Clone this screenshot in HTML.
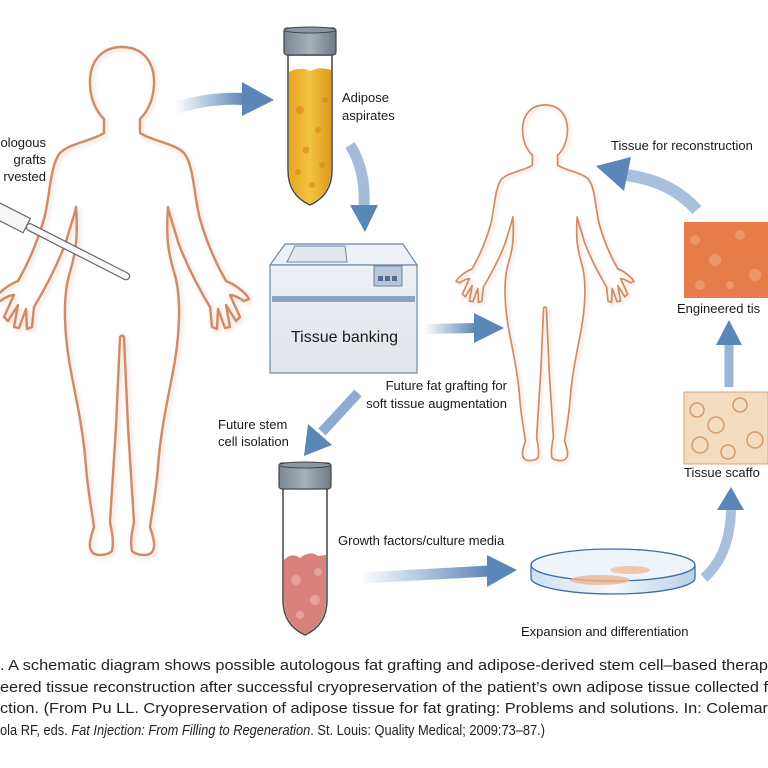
<!DOCTYPE html>
<html><head><meta charset="utf-8"><style>
html,body{margin:0;padding:0;background:#fff;}
svg{display:block;}
text{font-family:"Liberation Sans",sans-serif;fill:#1a1a1a;}
.cap{font-size:15px;fill:#222;}
</style></head><body>
<svg width="768" height="768" viewBox="0 0 768 768" xmlns="http://www.w3.org/2000/svg">
<defs>
<path id="half" d="M0,0 C20,0 33,14 32,38 C31,56 24,66 18,72 L18,86 C30,94 52,96 62,106 C72,118 72,150 78,172 C86,200 96,220 104,234 C114,238 124,246 127,252 L122,254 C116,250 112,248 108,248 L118,270 L114,274 L104,258 L108,280 L103,281 L96,262 L95,282 L90,280 L88,260 C76,240 64,216 56,195 C52,180 48,170 46,160 C44,190 46,205 52,225 C60,250 58,290 50,330 C44,360 38,390 36,420 C34,445 30,465 28,480 C32,492 34,500 30,505 C26,510 14,508 10,504 C8,495 10,485 12,475 C10,440 8,410 6,380 C4,340 3,310 2,290 L0,288" fill="none" stroke="#cf8a68" stroke-width="2.4" stroke-linejoin="round"/>
<filter id="sh" x="-10%" y="-10%" width="130%" height="130%"><feGaussianBlur stdDeviation="2.5"/></filter>
<linearGradient id="ar" x1="0" x2="1" y1="0" y2="0"><stop offset="0" stop-color="#5b86b8" stop-opacity="0"/><stop offset="1" stop-color="#5b86b8"/></linearGradient>
<linearGradient id="ttube" x1="0" x2="1"><stop offset="0" stop-color="#e6a51f"/><stop offset=".5" stop-color="#f3c441"/><stop offset="1" stop-color="#dd9a1c"/></linearGradient>
<linearGradient id="cap" x1="0" x2="1"><stop offset="0" stop-color="#7b8793"/><stop offset=".5" stop-color="#a7b1bb"/><stop offset="1" stop-color="#6f7a86"/></linearGradient>
<linearGradient id="box" x1="0" x2="0" y1="0" y2="1"><stop offset="0" stop-color="#eef1f5"/><stop offset="1" stop-color="#e0e5eb"/></linearGradient>
<linearGradient id="dish" x1="0" x2="1"><stop offset="0" stop-color="#cfe0f0"/><stop offset=".5" stop-color="#f4f8fc"/><stop offset="1" stop-color="#b9cfe6"/></linearGradient>
<g id="fig"><use href="#half"/><use href="#half" transform="scale(-1,1)"/></g>
</defs>

<g transform="translate(124,49)" filter="url(#sh)" opacity=".35"><use href="#fig"/></g>
<g transform="translate(122,47)"><use href="#fig"/></g>
<g transform="translate(547,107) scale(0.7)" filter="url(#sh)" opacity=".35"><use href="#fig"/></g>
<g transform="translate(545,105) scale(0.7)"><use href="#fig"/></g>

<g transform="translate(0,212) rotate(27)">
<rect x="-10" y="-8" width="40" height="16" fill="#f4f6f8" stroke="#666" stroke-width="1.2"/>
<rect x="30" y="-3.5" width="115" height="7" rx="3.5" fill="#f8f9fa" stroke="#666" stroke-width="1.2"/>
</g>

<path d="M288,55 L288,170 Q288,195 310,205 Q332,195 332,170 L332,55 Z" fill="#fff" stroke="#444" stroke-width="1.5"/>
<path d="M289,72 Q300,66 310,71 Q320,66 331,70 L331,170 Q331,194 310,204 Q289,194 289,170 Z" fill="url(#ttube)"/>
<g fill="#d77a1d" opacity=".5"><circle cx="300" cy="110" r="4"/><circle cx="318" cy="130" r="3"/><circle cx="306" cy="150" r="3.5"/><circle cx="322" cy="165" r="3"/><circle cx="298" cy="172" r="3"/><circle cx="312" cy="185" r="3"/><circle cx="325" cy="100" r="3"/></g>
<rect x="284" y="28" width="52" height="27" rx="3" fill="url(#cap)" stroke="#444" stroke-width="1.2"/>
<ellipse cx="310" cy="30" rx="26" ry="3" fill="#8c97a2" stroke="#444" stroke-width="1"/>

<path d="M283,488 L283,600 Q283,625 305,635 Q327,625 327,600 L327,488 Z" fill="#fff" stroke="#444" stroke-width="1.5"/>
<path d="M284,560 Q292,552 300,558 Q310,550 318,556 L326,555 L326,600 Q326,624 305,634 Q284,624 284,600 Z" fill="#d9817c"/>
<g fill="#f2b8b0" opacity=".6"><circle cx="296" cy="580" r="5"/><circle cx="315" cy="600" r="5"/><circle cx="300" cy="615" r="4"/><circle cx="318" cy="572" r="4"/></g>
<rect x="279" y="463" width="52" height="26" rx="3" fill="url(#cap)" stroke="#444" stroke-width="1.2"/>
<ellipse cx="305" cy="465" rx="26" ry="3" fill="#8c97a2" stroke="#444" stroke-width="1"/>

<path d="M270,265 L285,244 L403,244 L417,265 Z" fill="#eef1f5" stroke="#6d88a8" stroke-width="1.2"/>
<path d="M287,262 L295,246 L345,246 L347,262 Z" fill="#e3e8ee" stroke="#6d88a8" stroke-width="1"/>
<rect x="270" y="265" width="147" height="108" fill="url(#box)" stroke="#6d88a8" stroke-width="1.2"/>
<rect x="272" y="296" width="143" height="6" fill="#8fa3bb"/>
<rect x="374" y="266" width="28" height="20" fill="#b8c6d6" stroke="#6d88a8"/>
<rect x="378" y="276" width="5" height="5" fill="#4e6a8c"/><rect x="385" y="276" width="5" height="5" fill="#4e6a8c"/><rect x="392" y="276" width="5" height="5" fill="#4e6a8c"/>
<text x="291" y="342" font-size="16">Tissue banking</text>

<rect x="684" y="222" width="84" height="76" fill="#e57c4a"/>
<g fill="#f0a57a" opacity=".7"><circle cx="695" cy="240" r="5"/><circle cx="715" cy="260" r="6"/><circle cx="740" cy="235" r="5"/><circle cx="755" cy="275" r="6"/><circle cx="700" cy="285" r="5"/><circle cx="730" cy="285" r="4"/></g>
<rect x="684" y="392" width="84" height="72" fill="#f3dcc0" stroke="#d9a577" stroke-width="1"/>
<g fill="none" stroke="#d49a68" stroke-width="1.5"><circle cx="697" cy="410" r="7"/><circle cx="716" cy="425" r="8"/><circle cx="740" cy="405" r="7"/><circle cx="755" cy="440" r="8"/><circle cx="700" cy="445" r="8"/><circle cx="728" cy="452" r="7"/></g>

<path d="M531,565 L531,578 A82,16 0 0 0 695,578 L695,565" fill="url(#dish)" stroke="#3f6fa8" stroke-width="1.3"/>
<ellipse cx="613" cy="565" rx="82" ry="16" fill="#eef4fa" stroke="#3f6fa8" stroke-width="1.3"/>
<ellipse cx="600" cy="580" rx="30" ry="5" fill="#eeb48e" opacity=".8"/>
<ellipse cx="630" cy="570" rx="20" ry="4" fill="#eeb48e" opacity=".7"/>

<g>
<path d="M175,108 Q210,97 245,99" fill="none" stroke="url(#ar)" stroke-width="12"/>
<polygon points="242,82 274,100 242,116" fill="#5b86b8"/>
<path d="M350,145 Q366,170 364,207" fill="none" stroke="#8eabd0" stroke-width="11" opacity=".8"/>
<polygon points="350,205 378,205 365,232" fill="#5b86b8"/>
<path d="M424,329 L476,328" stroke="url(#ar)" stroke-width="10"/>
<polygon points="474,313 504,328 474,343" fill="#5b86b8"/>
<path d="M358,393 L322,432" stroke="#8eabd0" stroke-width="10"/>
<polygon points="308,424 332,445 304,456" fill="#5b86b8"/>
<path d="M360,578 L490,571" stroke="url(#ar)" stroke-width="11"/>
<polygon points="487,555 517,570 487,587" fill="#5b86b8"/>
<path d="M704,578 Q730,555 731,510" fill="none" stroke="#a9c0dc" stroke-width="10"/>
<polygon points="717,510 731,487 744,510" fill="#5b86b8"/>
<path d="M729,387 L729,343" stroke="#9ab5d6" stroke-width="9"/>
<polygon points="716,345 729,320 742,345" fill="#5b86b8"/>
<path d="M697,210 Q670,180 625,175" fill="none" stroke="#a9c0dc" stroke-width="12"/>
<polygon points="631,157 596,166 624,191" fill="#5b86b8"/>
</g>

<g font-size="13">
<text x="342" y="102">Adipose</text>
<text x="342" y="120">aspirates</text>
<text x="46" y="147" text-anchor="end">ologous</text>
<text x="46" y="164" text-anchor="end">grafts</text>
<text x="46" y="181" text-anchor="end">rvested</text>
<text x="611" y="150">Tissue for reconstruction</text>
<text x="677" y="313">Engineered tis</text>
<text x="684" y="477">Tissue scaffo</text>
<text x="507" y="390" text-anchor="end">Future fat grafting for</text>
<text x="507" y="408" text-anchor="end">soft tissue augmentation</text>
<text x="218" y="429">Future stem</text>
<text x="218" y="446">cell isolation</text>
<text x="338" y="545">Growth factors/culture media</text>
<text x="521" y="636">Expansion and differentiation</text>
</g>

<text class="cap" x="0" y="670" textLength="768" lengthAdjust="spacingAndGlyphs">. A schematic diagram shows possible autologous fat grafting and adipose-derived stem cell–based therap</text>
<text class="cap" x="0" y="692" textLength="768" lengthAdjust="spacingAndGlyphs">eered tissue reconstruction after successful cryopreservation of the patient’s own adipose tissue collected f</text>
<text class="cap" x="0" y="713" textLength="768" lengthAdjust="spacingAndGlyphs">ction. (From Pu LL. Cryopreservation of adipose tissue for fat grating: Problems and solutions. In: Colemar</text>
<text class="cap" x="0" y="735" textLength="545" lengthAdjust="spacingAndGlyphs">ola RF, eds. <tspan font-style="italic">Fat Injection: From Filling to Regeneration</tspan>. St. Louis: Quality Medical; 2009:73–87.)</text>
</svg>
</body></html>
